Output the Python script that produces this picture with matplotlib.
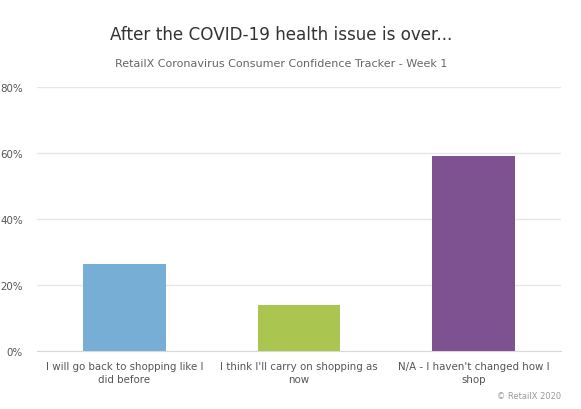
import matplotlib
matplotlib.use('Agg')
import matplotlib.pyplot as plt
from matplotlib.ticker import PercentFormatter

categories = ['I will go back to shopping like I\ndid before',
              "I think I'll carry on shopping as\nnow",
              "N/A - I haven't changed how I\nshop"]
values = [26.4, 13.9, 59.1]
colors = ['#76aed5', '#aac650', '#7e5290']
yticks = [0, 20, 40, 60, 80]

fig = plt.figure(figsize=(5.81, 4.10), dpi=100)
ax = fig.add_axes([0.0637, 0.1415, 0.9019, 0.6439])

x = range(len(categories))
ax.bar(x, values, width=0.475, color=colors, zorder=3)
ax.set_xlim(-0.5, 2.5)
ax.set_ylim(0, 80)
ax.set_yticks(yticks)
ax.yaxis.set_major_formatter(PercentFormatter(decimals=0))
ax.grid(axis='y', color='#e6e6e6', linewidth=1, zorder=0)
ax.set_xticks(list(x))
ax.set_xticklabels(categories, fontsize=7.4, color='#555555', linespacing=1.35)
ax.tick_params(axis='y', labelsize=7.4, labelcolor='#555555', length=0, pad=10)
ax.tick_params(axis='x', length=0, pad=7)
for s in ['top', 'right', 'left']:
    ax.spines[s].set_visible(False)
ax.spines['bottom'].set_color('#d8d8d8')

fig.text(0.4837, 0.915, 'After the COVID-19 health issue is over...', ha='center',
         va='center', fontsize=12.1, color='#333333')
fig.text(0.4837, 0.845, 'RetailX Coronavirus Consumer Confidence Tracker - Week 1',
         ha='center', va='center', fontsize=8.0, color='#666666')
fig.text(0.9656, 0.032, '\u00a9 RetailX 2020', ha='right', va='center',
         fontsize=6.0, color='#999999')

fig.savefig('out.png', dpi=100)
